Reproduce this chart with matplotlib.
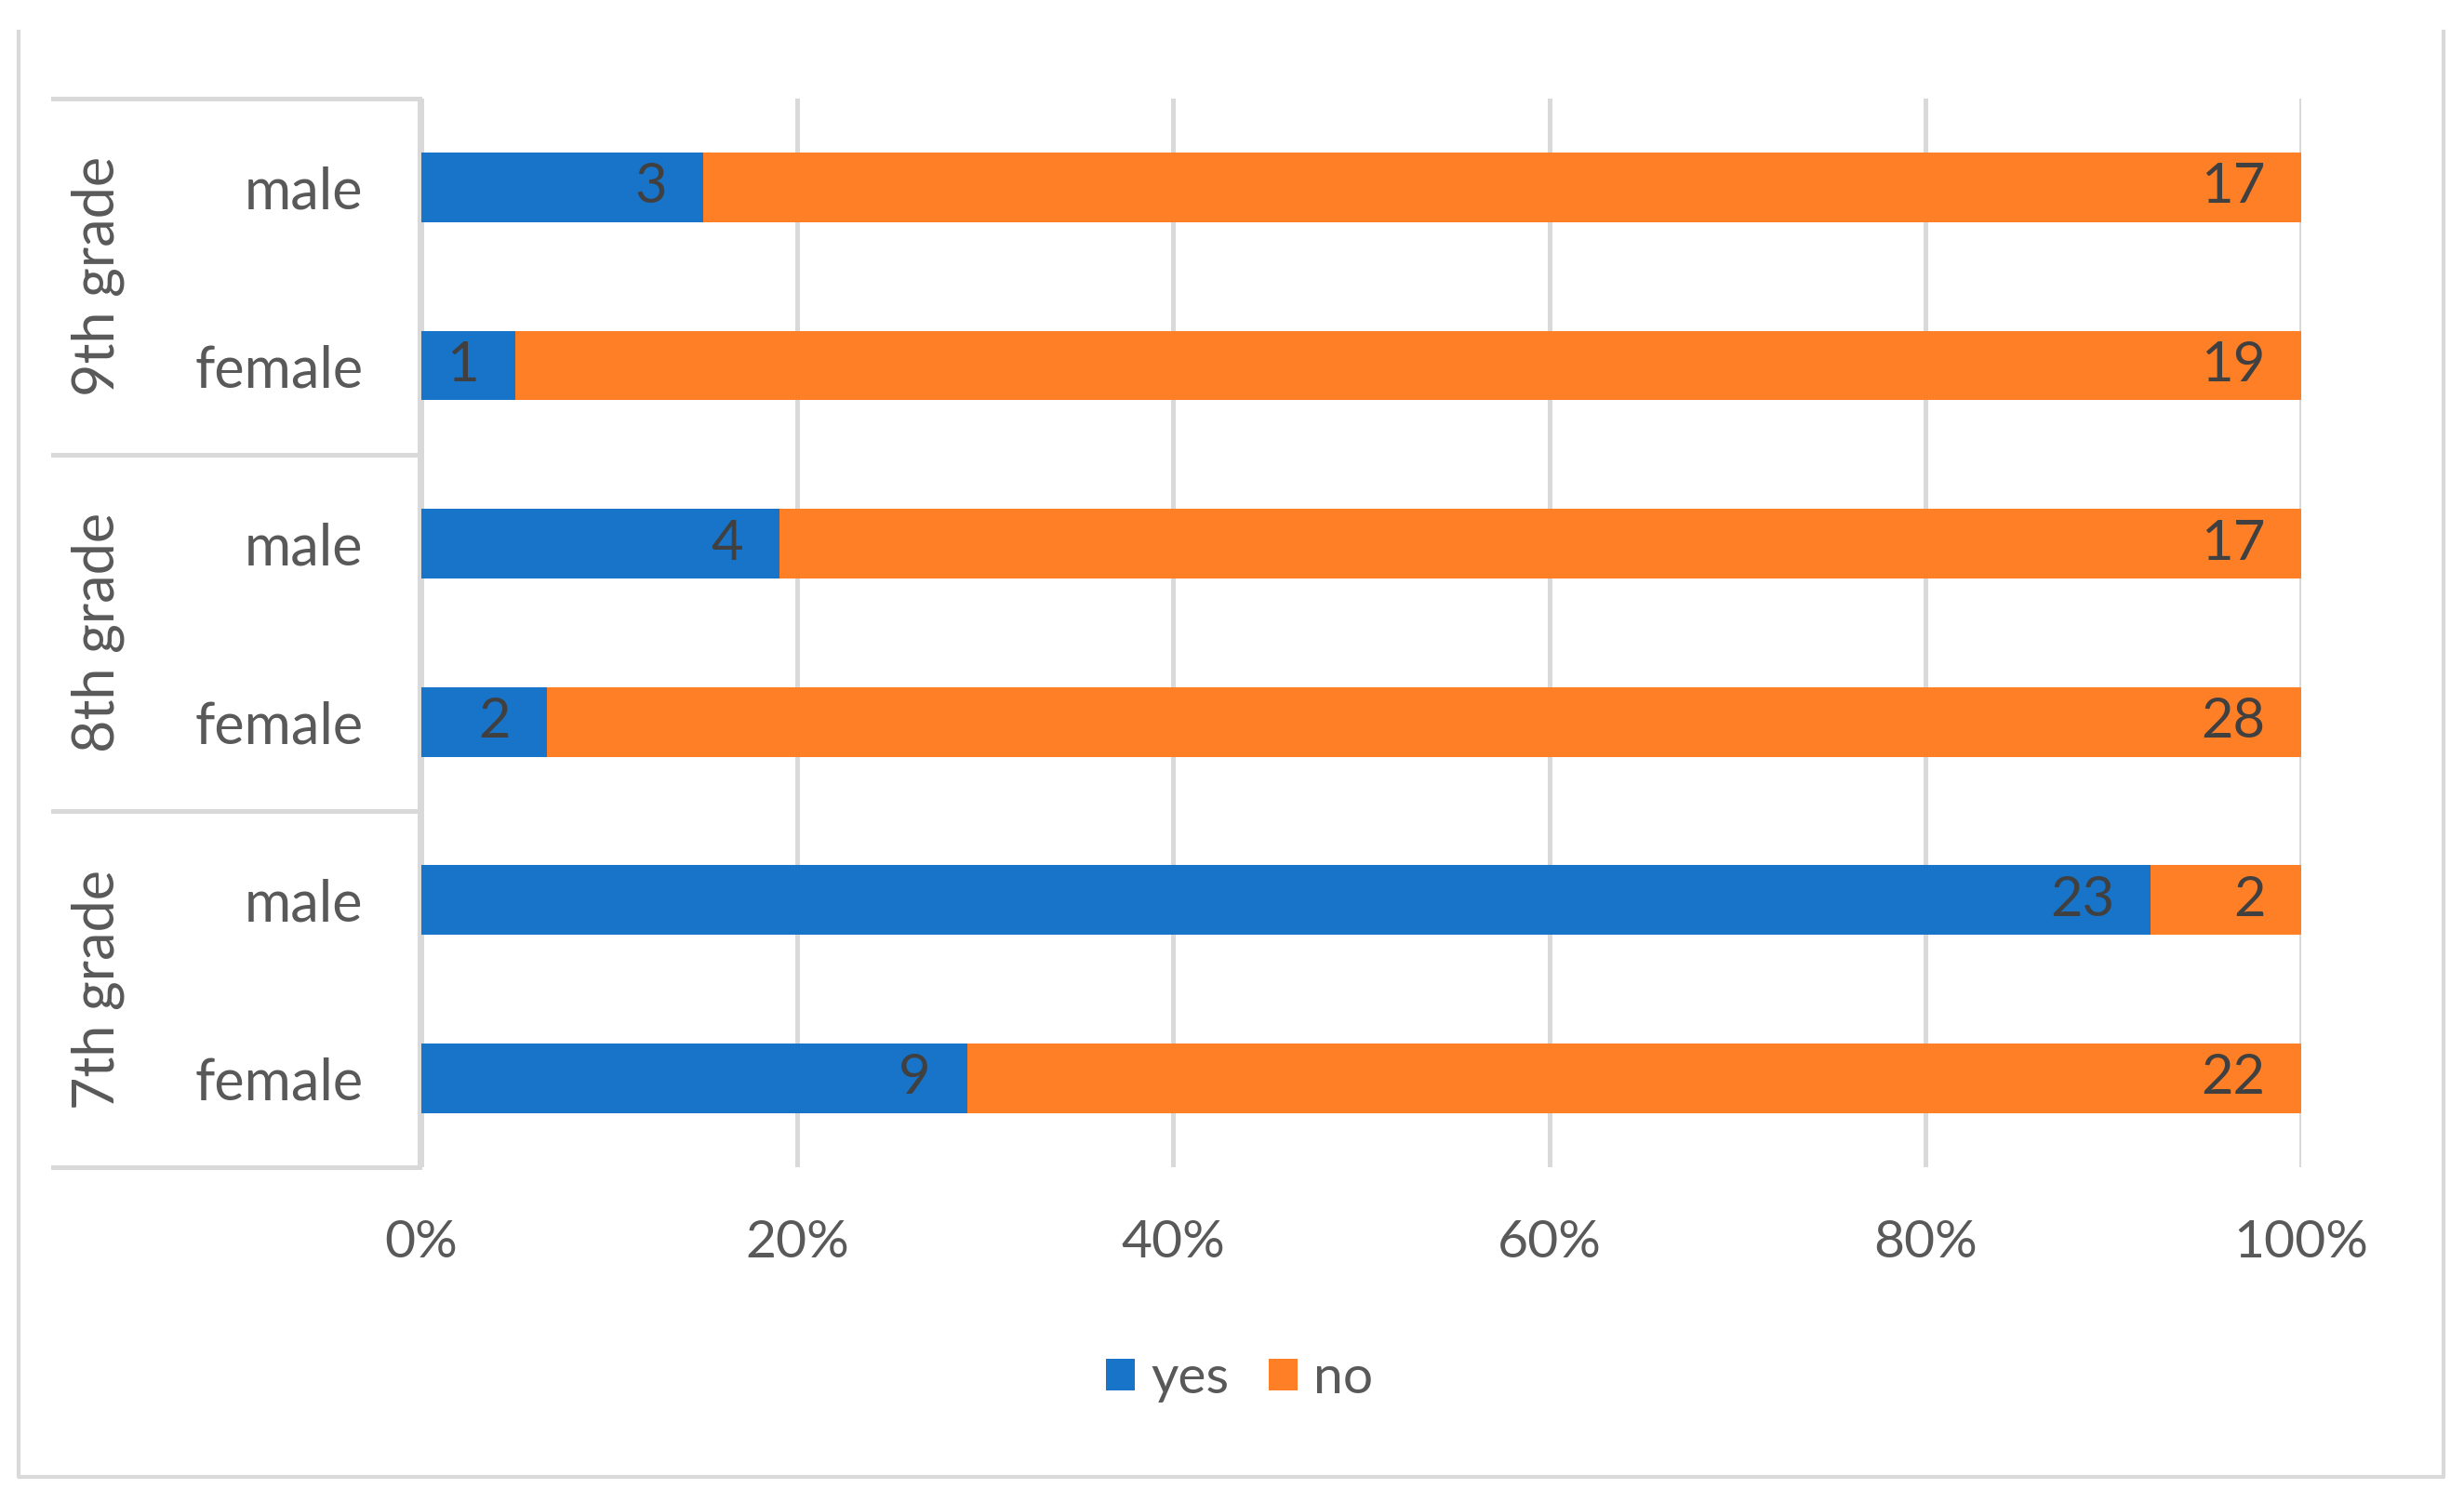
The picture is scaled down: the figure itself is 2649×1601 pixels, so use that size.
import numpy as np
import matplotlib.pyplot as plt
from matplotlib.lines import Line2D

plt.rcParams['font.family'] = ['Lato', 'DejaVu Sans']

# rows from bottom to top
grades = ["7th grade", "8th grade", "9th grade"]
genders = ["female", "male"]
yes_counts = [9, 23, 2, 4, 1, 3]
no_counts = [22, 2, 28, 17, 19, 17]

blue = "#1874C9"
orange = "#FF7F27"
grid_col = "#D9D9D9"
text_col = "#595959"
label_col = "#404040"
fs_cat = 44
fs_tick = 41
fs_val = 43

yes = np.array(yes_counts, dtype=float)
no = np.array(no_counts, dtype=float)
tot = yes + no
yes_pct = yes / tot
no_pct = no / tot

fig = plt.figure(figsize=(26.49, 16.01), dpi=100)
ax = fig.add_axes([0.171, 0.216, 0.763, 0.718])

ypos = np.arange(len(yes_counts))
row_labels = genders * len(grades)

bh = 0.39
b1 = ax.barh(ypos, yes_pct, height=bh, color=blue, label="yes", zorder=3)
b2 = ax.barh(ypos, no_pct, left=yes_pct, height=bh, color=orange, label="no", zorder=3)

# data labels at inside end
for i in range(len(ypos)):
    ax.annotate(str(yes_counts[i]), (yes_pct[i], ypos[i]), xytext=(-28, 0),
                textcoords="offset points", ha="right", va="center",
                fontsize=fs_val, color=label_col, zorder=4)
    ax.annotate(str(no_counts[i]), (1.0, ypos[i]), xytext=(-28, 0),
                textcoords="offset points", ha="right", va="center",
                fontsize=fs_val, color=label_col, zorder=4)

ax.set_xlim(0, 1)
ax.set_ylim(-0.5, len(ypos) - 0.5)
ax.set_xticks(np.linspace(0, 1, 6))
ax.set_xticklabels([f"{int(round(v * 100))}%" for v in np.linspace(0, 1, 6)])
ax.set_yticks(ypos)
ax.set_yticklabels(row_labels)
ax.tick_params(axis="x", length=0, pad=40, labelsize=fs_tick, labelcolor=text_col)
ax.tick_params(axis="y", length=0, pad=45, labelsize=fs_cat, labelcolor=text_col)
ax.grid(axis="x", color=grid_col, linewidth=3.6, zorder=0)
for s in ax.spines.values():
    s.set_visible(False)

# category table lines
tr = ax.transAxes
for yy in [0, 1 / 3, 2 / 3, 1]:
    ax.add_line(Line2D([-0.196, -0.001], [yy, yy], transform=tr, color=grid_col,
                       linewidth=3.6, clip_on=False))
ax.add_line(Line2D([-0.001, -0.001], [0, 1], transform=tr, color=grid_col,
                   linewidth=3.6, clip_on=False))

# grade labels
for k, g in enumerate(grades):
    ax.text(-0.172, (k + 0.5) / 3, g, transform=tr, rotation=90, ha="center",
            va="center", fontsize=fs_cat, color=text_col)

# outer chart border
ftr = fig.transFigure
x0, x1 = 20 / 2649, 2627 / 2649
y0, y1 = 13 / 1601, 1 - 34 / 1601
fig.add_artist(Line2D([x0, x0, x1, x1], [y1, y0, y0, y1], transform=ftr,
                      color=grid_col, linewidth=3.0))

fig.legend(handles=[b1, b2], labels=["yes", "no"], loc="center",
           bbox_to_anchor=(0.503, 0.074), ncol=2, frameon=False, fontsize=fs_tick,
           labelcolor=text_col, handlelength=0.55, handleheight=0.55,
           handletextpad=0.3, columnspacing=0.75)

fig.savefig("out.png", dpi=100)
